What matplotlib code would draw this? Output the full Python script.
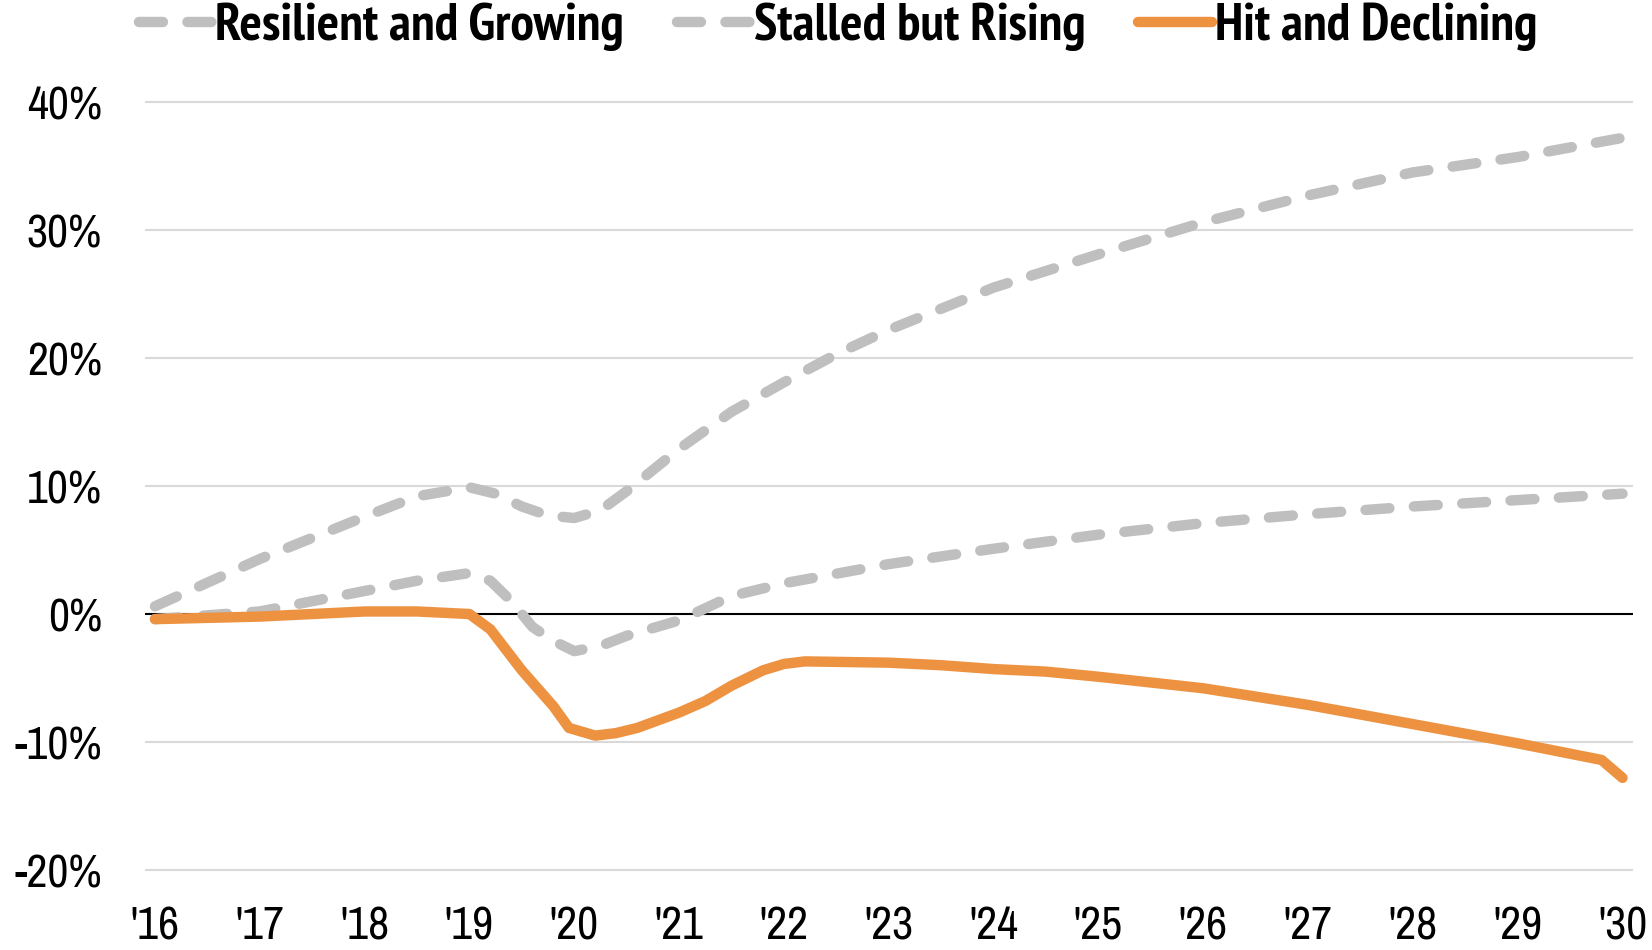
import matplotlib
matplotlib.use("Agg")
import matplotlib.pyplot as plt
from matplotlib import font_manager as fm
from matplotlib.lines import Line2D

entries = [(f.name, f.weight) for f in fm.fontManager.ttflist]
names = {n for n, _ in entries}
def has_bold(n):
    for nm, w in entries:
        if nm == n:
            try:
                if int(w) >= 700:
                    return True
            except (TypeError, ValueError):
                if str(w) in ('bold', 'heavy', 'black', 'extra bold'):
                    return True
    return False

candidates = ['Liberation Sans Narrow', 'Arial Narrow', 'Archivo Narrow', 'PT Sans Narrow',
              'Roboto Condensed', 'Pragati Narrow', 'Sofia Sans Condensed',
              'Fira Sans Condensed', 'IBM Plex Sans Condensed', 'Liberation Sans']
FONT = next(c for c in candidates if c in names)
bold_candidates = ['Liberation Sans Narrow', 'Arial Narrow', 'PT Sans Narrow', 'Archivo Narrow',
                   'Roboto Condensed', 'Pragati Narrow', 'Fira Sans Condensed',
                   'IBM Plex Sans Condensed', 'Liberation Sans']
BFONT = next((c for c in bold_candidates if c in names and has_bold(c)), FONT)

# ---- data ----
years = ["'16", "'17", "'18", "'19", "'20", "'21", "'22", "'23", "'24", "'25",
         "'26", "'27", "'28", "'29", "'30"]
tick_pos = list(range(2016, 2031))

resilient_x = [2016.0, 2017.0, 2018.0, 2018.5, 2019.0, 2019.25, 2019.5, 2019.75, 2020.0,
               2020.25, 2020.5, 2021.0, 2021.5, 2022.0, 2022.5, 2023.0, 2024.0, 2025.0,
               2026.0, 2027.0, 2028.0, 2029.0, 2030.0]
resilient_y = [0.6, 4.3, 7.6, 9.2, 9.9, 9.4, 8.4, 7.7, 7.5,
               8.1, 9.6, 12.9, 15.8, 18.1, 20.3, 22.2, 25.5, 28.1,
               30.6, 32.7, 34.5, 35.7, 37.2]

stalled_x = [2016.0, 2017.0, 2017.5, 2018.0, 2018.5, 2019.0, 2019.2, 2019.4, 2019.6, 2019.8,
             2020.0, 2020.25, 2020.5, 2021.0, 2021.5, 2022.0, 2023.0, 2024.0, 2025.0,
             2026.0, 2027.0, 2028.0, 2029.0, 2030.0]
stalled_y = [-0.4, 0.2, 1.0, 1.8, 2.6, 3.2, 2.6, 1.0, -1.0, -2.1,
             -2.9, -2.5, -1.7, -0.5, 1.4, 2.4, 3.9, 5.1, 6.2,
             7.1, 7.8, 8.4, 8.9, 9.4]

hit_x = [2016.0, 2017.0, 2017.5, 2018.0, 2018.5, 2019.0, 2019.2, 2019.5, 2019.8, 2019.95,
         2020.2, 2020.4, 2020.6, 2021.0, 2021.25, 2021.5, 2021.8, 2022.0, 2022.2, 2023.0,
         2023.5, 2024.0, 2024.5, 2025.0, 2026.0, 2027.0, 2028.0, 2029.0, 2029.8, 2030.0]
hit_y = [-0.4, -0.2, 0.0, 0.2, 0.2, 0.0, -1.2, -4.4, -7.2, -8.9,
         -9.5, -9.3, -8.9, -7.7, -6.8, -5.6, -4.4, -3.9, -3.7, -3.8,
         -4.0, -4.3, -4.5, -4.9, -5.8, -7.1, -8.6, -10.1, -11.4, -12.8]

labels = ["Resilient and Growing", "Stalled but Rising", "Hit and Declining"]
GRAY = '#bfbfbf'
ORANGE = '#ed9241'

plt.rcParams['font.family'] = [FONT, 'DejaVu Sans']

fig = plt.figure(figsize=(16.52, 9.5), dpi=100)
ax = fig.add_axes([145/1652, 0.0707, (1633-145)/1652, 0.9061-0.0707])

for v in [-20, -10, 10, 20, 30, 40]:
    ax.axhline(v, color='#d9d9d9', lw=1.5, zorder=1)
ax.axhline(0, color='black', lw=1.5, zorder=2)

lw = 7.5
dash = (2.3, 2.35)
ax.plot(resilient_x, resilient_y, color=GRAY, lw=lw, dashes=dash,
        dash_capstyle='round', dash_joinstyle='round', zorder=3)
ax.plot(stalled_x, stalled_y, color=GRAY, lw=lw, dashes=dash,
        dash_capstyle='round', dash_joinstyle='round', zorder=3)
ax.plot(hit_x, hit_y, color=ORANGE, lw=lw, solid_capstyle='round',
        solid_joinstyle='round', zorder=4)

ax.set_xlim(2015.905, 2030.10)
ax.set_ylim(-21, 41)
ax.set_yticks([-20, -10, 0, 10, 20, 30, 40])
ax.set_yticklabels(['-20%', '-10%', '0%', '10%', '20%', '30%', '40%'])
ax.set_xticks(tick_pos)
ax.set_xticklabels(years)
ax.tick_params(axis='both', length=0, labelsize=33)
ax.tick_params(axis='y', pad=31)
ax.tick_params(axis='x', pad=16)
for s in ax.spines.values():
    s.set_visible(False)

handles = [
    Line2D([], [], color=GRAY, lw=lw, dashes=dash, dash_capstyle='round'),
    Line2D([], [], color=GRAY, lw=lw, dashes=dash, dash_capstyle='round'),
    Line2D([], [], color=ORANGE, lw=lw, solid_capstyle='round'),
]
fig.legend(handles, labels, loc='center', bbox_to_anchor=(838/1652, 1-27/950), ncol=3,
           frameon=False, prop={'family': [BFONT, 'DejaVu Sans'], 'weight': 'bold', 'size': 38},
           handlelength=1.4, handletextpad=0.05, columnspacing=1.0, borderaxespad=0)

fig.savefig('out.png', dpi=100)
